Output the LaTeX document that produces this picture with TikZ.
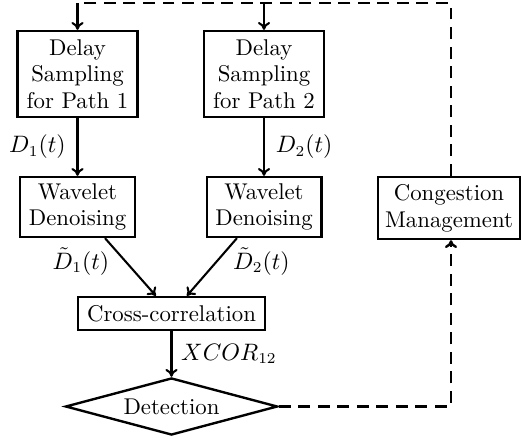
\documentclass[tikz,border=0pt]{standalone}
\usetikzlibrary{shapes.geometric,arrows.meta}
\begin{document}
\begin{tikzpicture}[x=0.4607pt,y=-0.4607pt,
  font=\fontsize{10.5}{12.3}\selectfont,
  blk/.style={draw,line width=1.1pt,align=center,inner sep=0pt},
  flow/.style={line width=0.95pt,-{To[length=3.6pt,width=5.6pt]}},
  fb/.style={line width=1.1pt,dash pattern=on 5.5pt off 3.5pt},
  lbl/.style={inner sep=0pt}]
\useasboundingbox (0,0) rectangle (521,435);
\node[blk,minimum width=55.3pt,minimum height=39.6pt] (s1) at (77.5,74) {Delay\\Sampling\\for Path 1};
\node[blk,minimum width=55.3pt,minimum height=39.6pt] (s2) at (264,74) {Delay\\Sampling\\for Path 2};
\node[blk,minimum width=52.8pt,minimum height=27.6pt] (w1) at (77.5,207) {Wavelet\\Denoising};
\node[blk,minimum width=52.8pt,minimum height=27.6pt] (w2) at (264,207) {Wavelet\\Denoising};
\node[blk,minimum width=86.2pt,minimum height=15.2pt] (xc) at (171.5,313.5) {Cross-correlation};
\node[draw,diamond,line width=1.1pt,inner sep=0pt,aspect=3.72,minimum width=97.7pt,minimum height=26.3pt] (det) at (171.5,406.5) {Detection};
\node[blk,minimum width=65.2pt,minimum height=28.6pt] (cm) at (449,208) {Congestion\\Management};
\coordinate (t1) at (77.5,3);
\coordinate (t2) at (264,3);
\coordinate (tr) at (451,3);
\coordinate (br) at (451,406.5);
\draw[flow] (s1) -- node[lbl,midway,left=5pt] {$D_1(t)$} (w1);
\draw[flow] (s2) -- node[lbl,midway,right=5pt] {$D_2(t)$} (w2);
\draw[flow] (w1) -- node[lbl,pos=0.4,left=7pt] {$\tilde{D}_1(t)$} (xc);
\draw[flow] (w2) -- node[lbl,pos=0.4,right=7pt] {$\tilde{D}_2(t)$} (xc);
\draw[flow] (xc) -- node[lbl,midway,right=4pt] {$XCOR_{12}$} (det);
\draw[fb] (cm.north -| tr) -- (tr) -- (t1);
\draw[flow] (t1) -- (s1);
\draw[flow] (t2) -- (s2);
\draw[fb,-{To[length=3.6pt,width=5.6pt]}] (det.east) -- (br) -- (cm.south -| br);
\end{tikzpicture}
\end{document}
